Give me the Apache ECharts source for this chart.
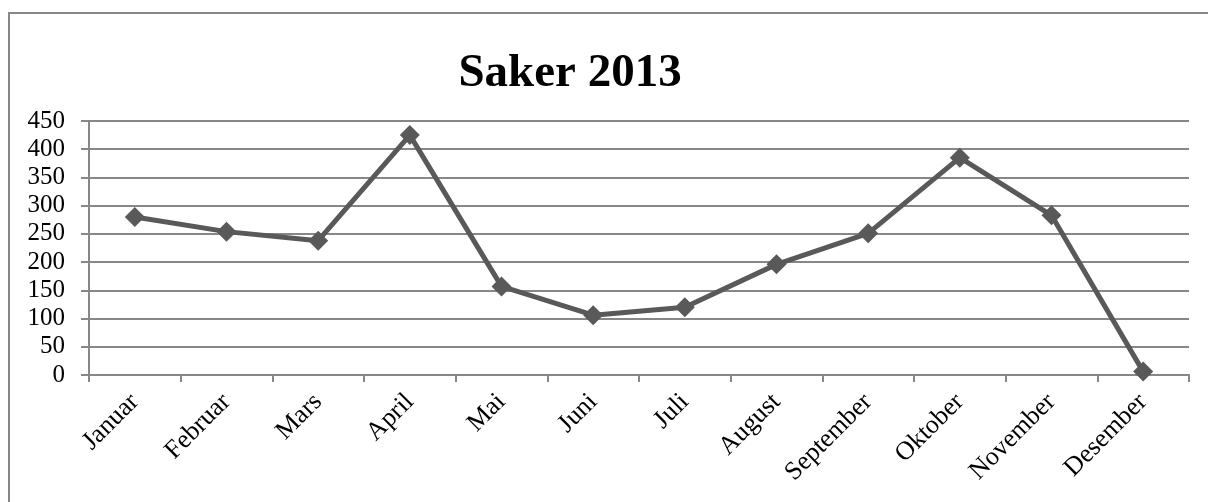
<!DOCTYPE html>
<html>
<head>
<meta charset="utf-8">
<script src="https://cdn.jsdelivr.net/npm/echarts@6/dist/echarts.min.js"></script>
<style>
  html, body { margin: 0; padding: 0; background: #fff; }
  #chart { width: 1208px; height: 502px; }
</style>
</head>
<body>
<div id="chart"></div>
<script>
const months = ['Januar', 'Februar', 'Mars', 'April', 'Mai', 'Juni', 'Juli', 'August', 'September', 'Oktober', 'November', 'Desember'];
const saker = [280, 254, 238, 425, 157, 106, 120, 196, 251, 385, 283, 6];
const yMin = 0;
const yMax = 450;
const yStep = 50;

const serif = "'Liberation Serif', 'Times New Roman', serif";
const gridColor = '#878787';

const chart = echarts.init(document.getElementById('chart'));
chart.setOption({
  animation: false,
  backgroundColor: '#fff',
  title: {
    text: 'Saker 2013',
    left: 565,
    top: 45,
    textAlign: 'center',
    textStyle: { fontFamily: serif, fontWeight: 'bold', fontSize: 47, color: '#000' }
  },
  graphic: [{
    type: 'rect',
    shape: { x: 9, y: 13, width: 1300, height: 600 },
    style: { fill: 'none', stroke: gridColor, lineWidth: 2 },
    silent: true
  }],
  grid: { left: 89, right: 19, top: 121, bottom: 127, containLabel: false },
  xAxis: {
    type: 'category',
    data: months,
    boundaryGap: true,
    axisLine: { lineStyle: { color: gridColor, width: 2 } },
    axisTick: { show: true, length: 7, alignWithLabel: false, lineStyle: { color: gridColor, width: 2 } },
    axisLabel: { rotate: 45, margin: 23, interval: 0, fontFamily: serif, fontSize: 26, color: '#000' }
  },
  yAxis: {
    type: 'value',
    min: yMin,
    max: yMax,
    interval: yStep,
    axisLine: { show: true, lineStyle: { color: gridColor, width: 2 } },
    axisTick: { show: true, length: 8, lineStyle: { color: gridColor, width: 2 } },
    splitLine: { lineStyle: { color: gridColor, width: 2 } },
    axisLabel: { margin: 24, fontFamily: serif, fontSize: 25, color: '#000' }
  },
  series: [{
    name: 'Saker',
    type: 'line',
    data: saker,
    symbol: 'diamond',
    symbolSize: 20,
    lineStyle: { color: '#595959', width: 5 },
    itemStyle: { color: '#595959' }
  }]
});
</script>
</body>
</html>
